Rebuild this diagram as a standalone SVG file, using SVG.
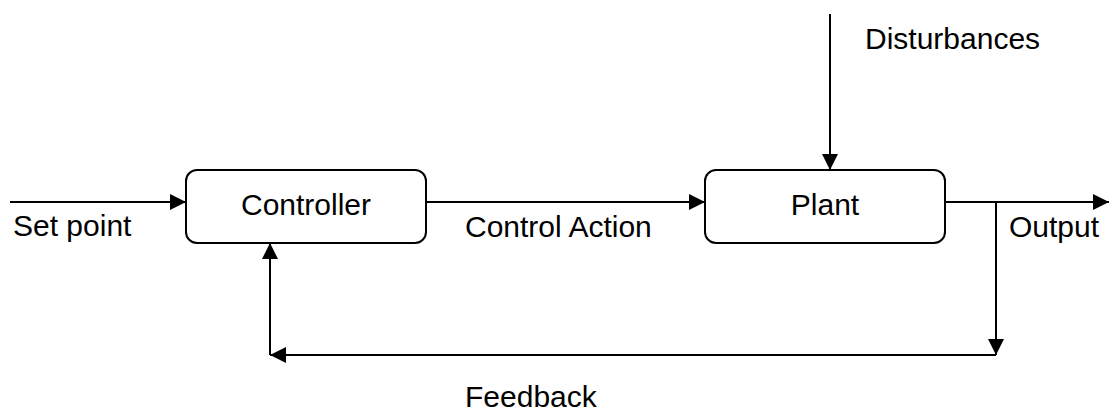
<svg xmlns="http://www.w3.org/2000/svg" width="1109" height="414" viewBox="0 0 1109 414">
  <style>
    .box { fill: #ffffff; stroke: #000000; stroke-width: 2; }
    .wire { fill: none; stroke: #000000; stroke-width: 2; }
    .lbl { font-family: "Liberation Sans", Arial, sans-serif; font-size: 30px; fill: #000000; }
  </style>
  <defs>
    <marker id="arrow" markerUnits="userSpaceOnUse" markerWidth="16" markerHeight="18" refX="16" refY="9" orient="auto">
      <path d="M0,1 L16,9 L0,17 Z" fill="#000000"/>
    </marker>
  </defs>

  <rect width="1109" height="414" fill="#ffffff"/>

  <!-- connectors -->
  <g id="connectors">
    <line class="wire" x1="10" y1="202" x2="186" y2="202" marker-end="url(#arrow)"/>
    <line class="wire" x1="426" y1="202" x2="705" y2="202" marker-end="url(#arrow)"/>
    <line class="wire" x1="830" y1="14" x2="830" y2="170" marker-end="url(#arrow)"/>
    <line class="wire" x1="945" y1="202" x2="1109" y2="202" marker-end="url(#arrow)"/>
    <line class="wire" x1="996" y1="202" x2="996" y2="355" marker-end="url(#arrow)"/>
    <line class="wire" x1="996" y1="355" x2="270" y2="355" marker-end="url(#arrow)"/>
    <line class="wire" x1="270" y1="355" x2="270" y2="243" marker-end="url(#arrow)"/>
  </g>

  <!-- blocks -->
  <g id="controller">
    <rect class="box" x="186" y="170" width="240" height="73" rx="11" ry="11"/>
    <text class="lbl" x="306" y="215" text-anchor="middle">Controller</text>
  </g>
  <g id="plant">
    <rect class="box" x="705" y="170" width="240" height="73" rx="11" ry="11"/>
    <text class="lbl" x="825" y="215" text-anchor="middle">Plant</text>
  </g>

  <!-- signal labels -->
  <g id="labels">
    <text class="lbl" x="13" y="236">Set point</text>
    <text class="lbl" x="465" y="237">Control Action</text>
    <text class="lbl" x="865" y="49">Disturbances</text>
    <text class="lbl" x="1009" y="237">Output</text>
    <text class="lbl" x="465" y="407">Feedback</text>
  </g>
</svg>
